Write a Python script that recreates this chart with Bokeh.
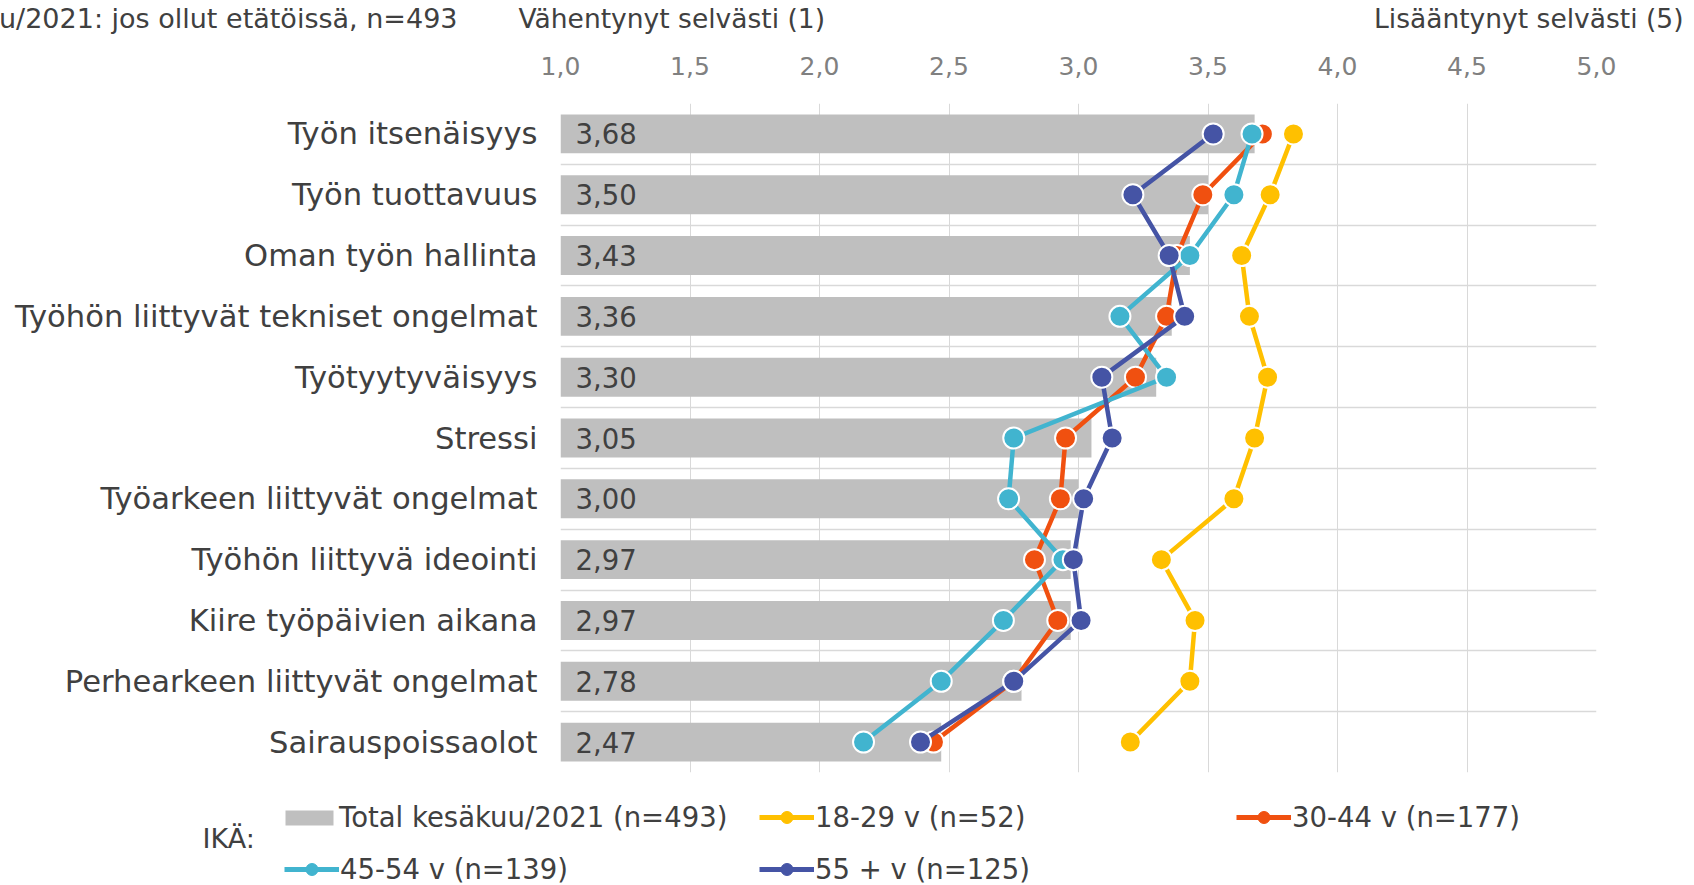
from bokeh.plotting import figure
from bokeh.layouts import column
from bokeh.models import (Range1d, FixedTicker, Legend, LegendItem, Label, ColumnDataSource)
from bokeh.core.properties import value
from bokeh.embed import file_html
from bokeh.resources import INLINE

categories = ["Työn itsenäisyys", "Työn tuottavuus", "Oman työn hallinta",
              "Työhön liittyvät tekniset ongelmat", "Työtyytyväisyys", "Stressi",
              "Työarkeen liittyvät ongelmat", "Työhön liittyvä ideointi",
              "Kiire työpäivien aikana", "Perhearkeen liittyvät ongelmat", "Sairauspoissaolot"]
total = [3.68, 3.50, 3.43, 3.36, 3.30, 3.05, 3.00, 2.97, 2.97, 2.78, 2.47]
age_18_29 = [3.83, 3.74, 3.63, 3.66, 3.73, 3.68, 3.60, 3.32, 3.45, 3.43, 3.20]
age_30_44 = [3.71, 3.48, 3.38, 3.34, 3.22, 2.95, 2.93, 2.83, 2.92, 2.75, 2.44]
age_45_54 = [3.67, 3.60, 3.43, 3.16, 3.34, 2.75, 2.73, 2.94, 2.71, 2.47, 2.17]
age_55 = [3.52, 3.21, 3.35, 3.41, 3.09, 3.13, 3.02, 2.98, 3.01, 2.75, 2.39]
x_ticks = [1.0, 1.5, 2.0, 2.5, 3.0, 3.5, 4.0, 4.5, 5.0]
x_tick_labels = ["1,0", "1,5", "2,0", "2,5", "3,0", "3,5", "4,0", "4,5", "5,0"]
series_labels = ["Total kesäkuu/2021 (n=493)", "18-29 v (n=52)", "30-44 v (n=177)",
                 "45-54 v (n=139)", "55 + v (n=125)"]
title_left = "u/2021: jos ollut etätöissä, n=493"
header_low = "Vähentynyt selvästi (1)"
header_high = "Lisääntynyt selvästi (5)"
legend_title = "IKÄ:"

FONT = "DejaVu Sans"
TXT = "#404040"
W = 1694
BAR_COLOR = "#BFBFBF"
colors = ["#FFC000", "#F05010", "#41B4CF", "#4554A5"]

# ---------------- header strip ----------------
HH = 40
hdr = figure(width=W, height=HH, output_backend="svg", toolbar_location=None,
             x_axis_type=None, y_axis_type=None,
             x_range=Range1d(0, W), y_range=Range1d(0, HH),
             min_border=0, outline_line_color=None, frame_align=False)
hy = HH - 18
for txt, x, align, fs in [(title_left, 457, "right", "27px"), (header_low, 518, "left", "26.5px"),
                          (header_high, 1683, "right", "26.5px")]:
    hdr.add_layout(Label(x=x, y=hy, x_units="screen", y_units="screen", text=txt,
                         text_font=FONT, text_font_size=fs, text_color=TXT,
                         text_baseline="middle", text_align=align))

# ---------------- main chart ----------------
ypos = list(range(len(categories)))
src = ColumnDataSource(dict(
    y=ypos, total=total, a1=age_18_29, a2=age_30_44, a3=age_45_54, a4=age_55,
    lbl=[f"{v:.2f}".replace(".", ",") for v in total],
))

MH = 740
p = figure(width=W, height=MH, output_backend="svg", toolbar_location=None,
           x_range=Range1d(1, 5), y_range=Range1d(len(categories) - 0.5, -0.5),
           x_axis_location="above", frame_align=False,
           min_border_left=560, min_border_right=98, min_border_top=63, min_border_bottom=8)
p.outline_line_color = None

xa = p.xaxis[0]
xa.ticker = FixedTicker(ticks=x_ticks)
xa.major_label_overrides = {t: l for t, l in zip(x_ticks, x_tick_labels)}
xa.axis_line_color = None
xa.major_tick_line_color = None
xa.minor_tick_line_color = None
xa.major_label_text_font = FONT
xa.major_label_text_font_size = "25px"
xa.major_label_text_color = "#808080"
xa.major_label_standoff = 23

ya = p.yaxis[0]
ya.ticker = FixedTicker(ticks=ypos)
ya.major_label_overrides = {i: c for i, c in enumerate(categories)}
ya.axis_line_color = None
ya.major_tick_line_color = None
ya.minor_tick_line_color = None
ya.major_label_text_font = FONT
ya.major_label_text_font_size = "30.6px"
ya.major_label_text_color = TXT
ya.major_label_standoff = 17

p.xgrid[0].ticker = FixedTicker(ticks=x_ticks)
p.xgrid[0].grid_line_color = "#D9D9D9"
p.xgrid[0].grid_line_width = 1
p.ygrid[0].ticker = FixedTicker(ticks=[i - 0.5 for i in range(len(categories) + 1)])
p.ygrid[0].grid_line_color = "#D9D9D9"
p.ygrid[0].grid_line_width = 1.5

p.hbar(y="y", left=1, right="total", height=0.64, source=src,
       fill_color=BAR_COLOR, line_color=None)
p.text(x=1, y="y", text="lbl", source=src, x_offset=15,
       text_font=value(FONT), text_font_size="27.5px", text_color=TXT,
       text_baseline="middle", text_align="left")

for c, col in zip(colors, ["a1", "a2", "a3", "a4"]):
    p.line(x=col, y="y", source=src, line_color=c, line_width=4.5)
    p.scatter(x=col, y="y", source=src, size=21, fill_color=c,
              line_color="white", line_width=2)

# ---------------- legend strip ----------------
LH = 885 - HH - MH
lg = figure(width=W, height=LH, output_backend="svg", toolbar_location=None,
            x_axis_type=None, y_axis_type=None,
            x_range=Range1d(0, W), y_range=Range1d(0, LH),
            min_border=0, outline_line_color=None, frame_align=False)
# legend proxies (kept outside the visible range of this strip)
proxy_x = [-100]
proxy_y = [-100]
sw_bar = lg.hbar(y=proxy_y, left=proxy_x, right=proxy_x, height=1,
                 fill_color=BAR_COLOR, line_color=None)
sw = [[sw_bar]]
for c in colors:
    l_r = lg.line(x=proxy_x, y=proxy_y, line_color=c, line_width=5)
    s_r = lg.scatter(x=proxy_x, y=proxy_y, size=12, fill_color=c,
                     line_color=c, line_width=1)
    sw.append([l_r, s_r])

row1, row2 = 817 - (HH + MH), 869 - (HH + MH)
positions = [(279, row1), (759, row1), (1236, row1), (284, row2), (759, row2)]
for k, (lab, rs, (xf, yc)) in enumerate(zip(series_labels, sw, positions)):
    gw, gh, st = (60, 19, 0) if k == 0 else (55, 30, 1)
    leg = Legend(items=[LegendItem(label=lab, renderers=rs)],
                 location=(xf, LH - (yc + 16)),
                 orientation="horizontal",
                 glyph_width=gw, glyph_height=gh, label_height=16,
                 label_standoff=st, padding=0, margin=0, spacing=0,
                 border_line_color=None, background_fill_alpha=0,
                 label_text_font=FONT, label_text_font_size="27.5px",
                 label_text_color=TXT, label_text_baseline="middle")
    lg.add_layout(leg, "center")

lg.add_layout(Label(x=202, y=LH - (838 - (HH + MH)), x_units="screen", y_units="screen",
                    text=legend_title, text_font=FONT, text_font_size="27px",
                    text_color=TXT, text_baseline="middle", text_align="left"))

layout = column(hdr, p, lg, spacing=0)
open("out.html", "w").write(file_html(layout, INLINE))
